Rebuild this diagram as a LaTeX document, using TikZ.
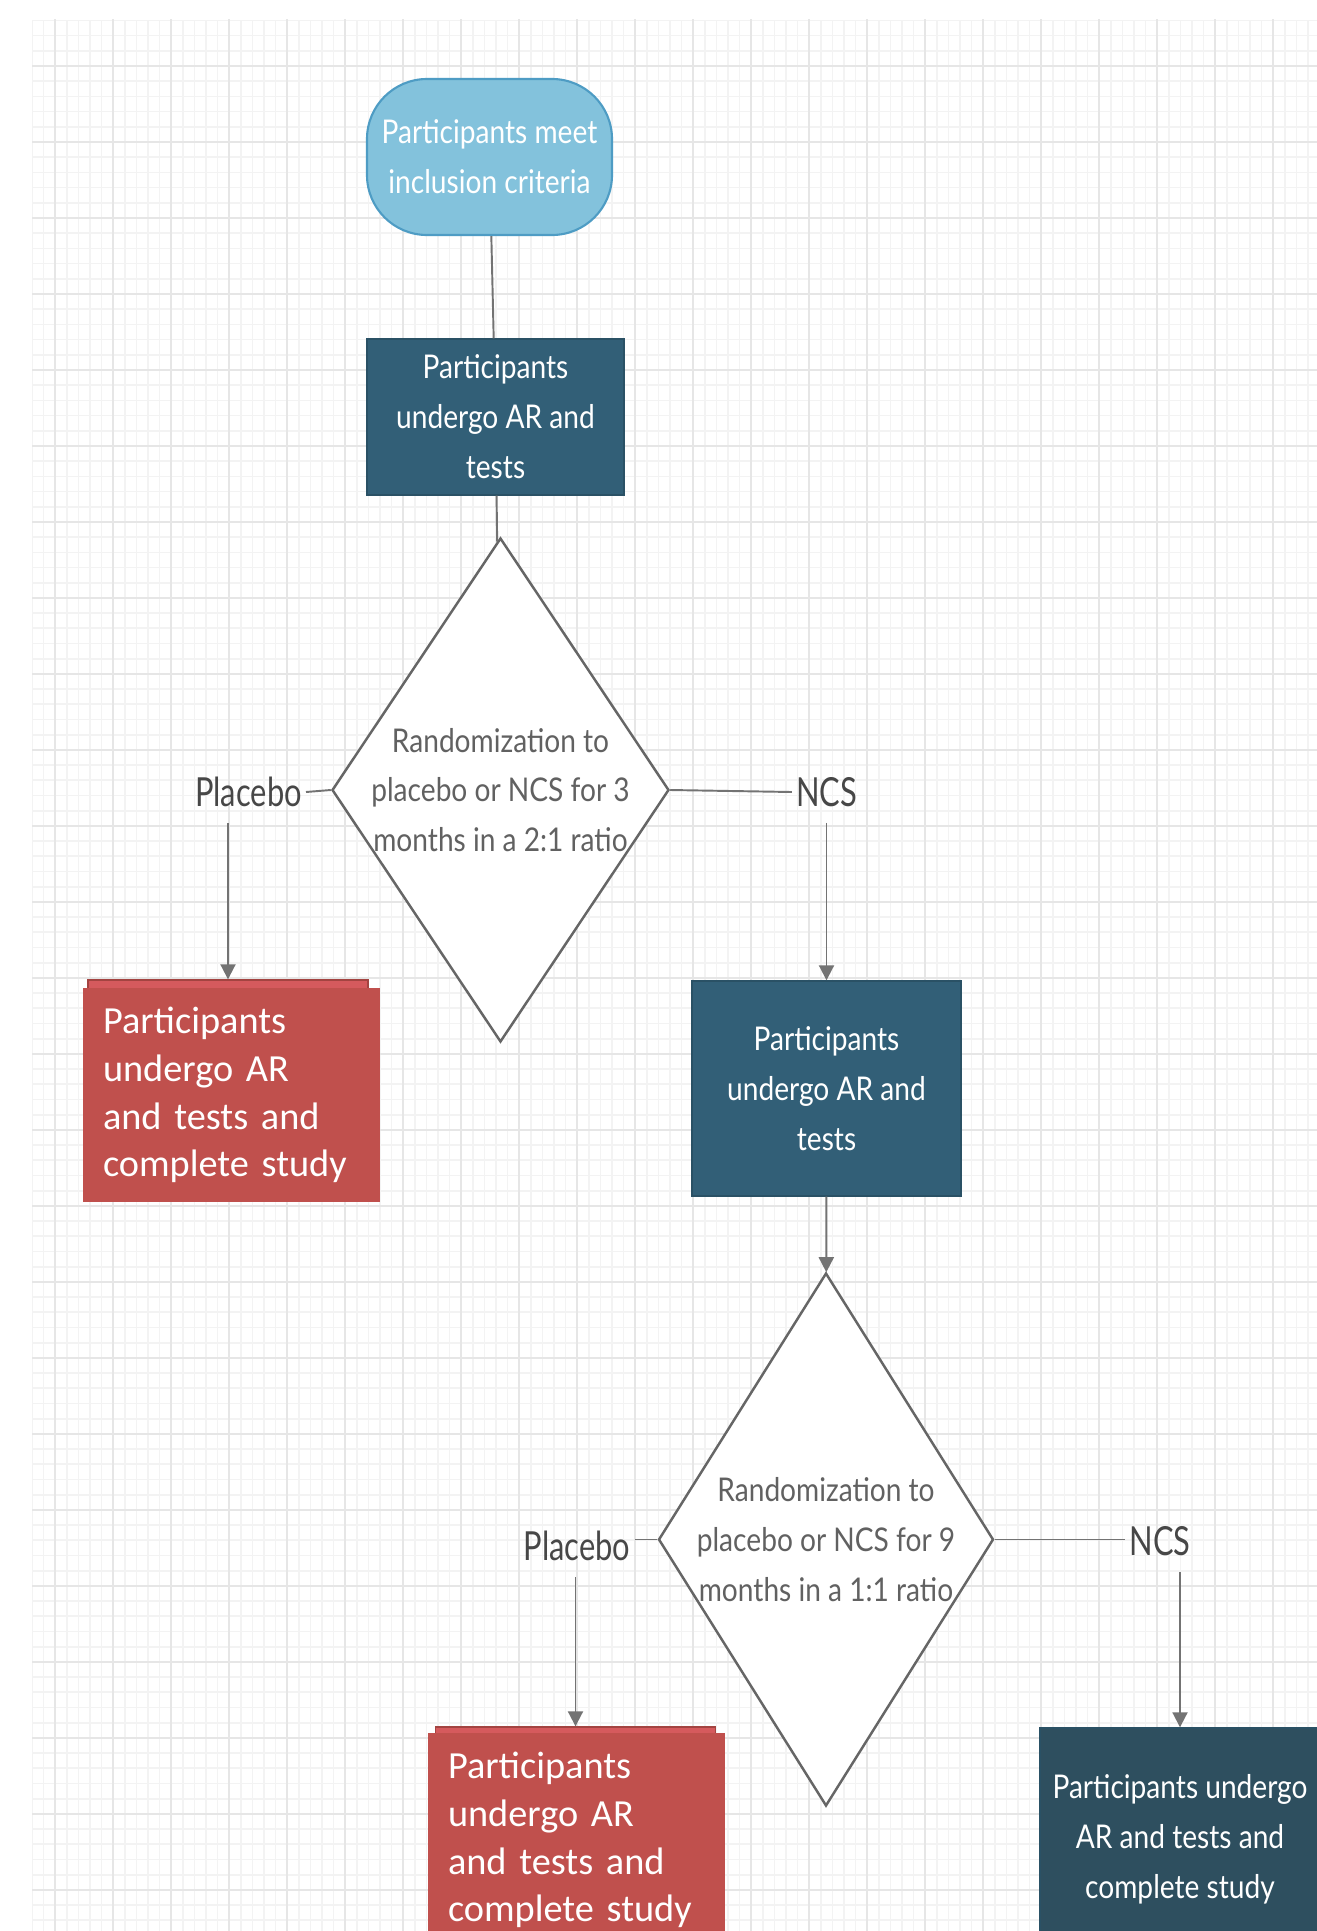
\documentclass[tikz,border=0pt]{standalone}
\usepackage{fontspec}
\newfontfamily\lucidfont[FakeStretch=0.86]{Lato}
\newfontfamily\labelfont[FakeStretch=0.77]{Lato}
\newfontfamily\officefont{Carlito}
\usetikzlibrary{shapes.geometric, arrows.meta, positioning, calc}

\definecolor{termfill}{HTML}{83C2DC}
\definecolor{termdraw}{HTML}{4E9CC4}
\definecolor{procfill}{HTML}{325F77}
\definecolor{endfill}{HTML}{2E4F5F}
\definecolor{redfill}{HTML}{C0504D}
\definecolor{redstrip}{HTML}{D55A5D}
\definecolor{linegray}{HTML}{737373}
\definecolor{gridmajor}{HTML}{E6E6E6}
\definecolor{gridminor}{HTML}{F3F3F3}

\begin{document}
\begin{tikzpicture}[
    sterm/.style={rectangle, rounded corners=0.6cm, draw=termdraw, fill=termfill, line width=0.6pt, minimum width=2.45cm, minimum height=1.56cm, text=white, align=center, font=\lucidfont\fontsize{9.3}{14.2}\selectfont},
    sproc/.style={rectangle, draw=procfill!85!black, fill=procfill, line width=0.4pt, minimum width=2.57cm, minimum height=1.56cm, text=white, align=center, font=\lucidfont\fontsize{9.3}{14.2}\selectfont},
    sdec/.style={diamond, draw=black!60, fill=white, line width=0.7pt, minimum width=3.37cm, minimum height=5.04cm, inner sep=0pt},
    sdtext/.style={text=black!62, align=center, inner sep=0pt, font=\lucidfont\fontsize{9.3}{14.2}\selectfont},
    slabel/.style={text=black!72, inner sep=1pt, font=\labelfont\fontsize{11.4}{13}\selectfont},
    sred/.style={rectangle, fill=redfill, minimum height=2.14cm, text width=2.57cm, inner xsep=0.2cm, inner ysep=0pt, align=left, text=white, font=\officefont\fontsize{10.9}{13.6}\selectfont},
    sstrip/.style={rectangle, draw=redfill!85!black, fill=redstrip, minimum width=2.80cm, minimum height=0.5cm, line width=0.4pt},
    sline/.style={draw=linegray, line width=0.55pt},
    sarrow/.style={sline, -{Triangle[length=0.15cm, width=0.15cm]}}
]
\useasboundingbox[fill=white] (0,0) rectangle (13.17,-19.31);

% grid paper
\begin{scope}
\clip (0.32,-0.20) rectangle (13.17,-19.31);
\draw[gridminor, line width=0.5pt, xstep=0.116, ystep=0.152, shift={(0.32,-0.204)}] (0,0) grid (13,-19.2);
\draw[gridmajor, line width=0.7pt, xstep=0.58, ystep=0.76, shift={(0.55,-0.66)}] (-0.58,0.76) grid (13,-19);
\end{scope}

% first stage
\node[sterm] (term) at (4.895,-1.57) {Participants meet\\inclusion criteria};
\node[sproc] (ar1) at (4.955,-4.17) {Participants\\undergo AR and\\tests};
\node[sdec] (rand1) at (5.005,-7.90) {};
\node[sdtext] (rand1t) at (rand1) {Randomization to\\placebo or NCS for 3\\months in a 2:1 ratio};
\node[slabel] (pl1) at (2.485,-7.92) {Placebo};
\node[slabel] (ncs1) at (8.265,-7.92) {NCS};
\node[sstrip] (st1) at (2.28,-10.05) {};
\node[sred] (pc1) at (2.315,-10.95) {Participants\\undergo AR\\and tests and\\complete study};
\node[sproc, minimum width=2.69cm, minimum height=2.15cm] (ar2) at (8.265,-10.885) {Participants\\undergo AR and\\tests};

% second stage
\node[sdec, minimum width=3.35cm, minimum height=5.33cm] (rand2) at (8.26,-15.395) {};
\node[sdtext] (rand2t) at (rand2) {Randomization to\\placebo or NCS for 9\\months in a 1:1 ratio};
\node[slabel] (pl2) at (5.77,-15.46) {Placebo};
\node[slabel] (ncs2) at (11.60,-15.41) {NCS};
\node[sstrip] (st2) at (5.755,-17.52) {};
\node[sred] (pc2) at (5.765,-18.40) {Participants\\undergo AR\\and tests and\\complete study};
\node[sproc, fill=endfill, minimum width=2.80cm, minimum height=2.22cm] (done) at (11.80,-18.39) {Participants undergo\\AR and tests and\\complete study};

\draw[sline] (term) -- (ar1);
\draw[sline] (ar1) -- (rand1);
\draw[sline] (rand1.west) -- (pl1.east);
\draw[sline] (rand1.east) -- (ncs1.west);
\draw[sarrow, shorten <=0.12cm] (pl1.south -| st1.north) -- (st1.north);
\draw[sarrow, shorten <=0.12cm] (ncs1.south -| ar2.north) -- (ar2.north);
\draw[sarrow] (ar2) -- (rand2);
\draw[sline] (rand2.west) -- (rand2.west -| pl2.east);
\draw[sline] (rand2.east) -- (rand2.east -| ncs2.west);
\draw[sarrow, shorten <=0.12cm] (pl2.south -| st2.north) -- (st2.north);
\draw[sarrow, shorten <=0.12cm] (ncs2.south -| done.north) -- (done.north);
\end{tikzpicture}
\end{document}
